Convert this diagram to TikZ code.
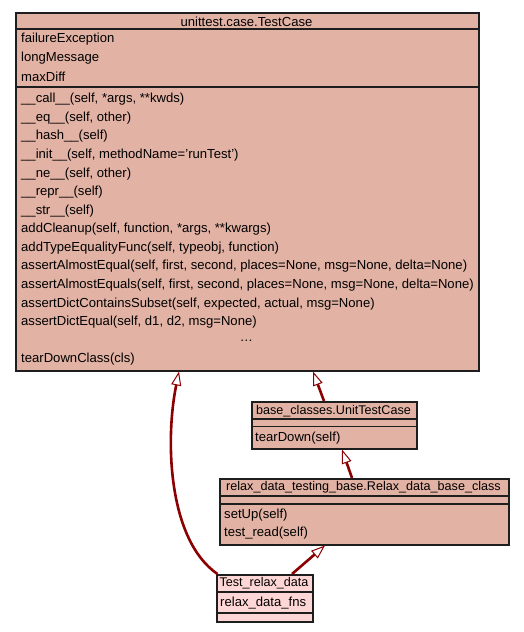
\documentclass[tikz,border=0pt]{standalone}
\usepackage{fontspec}
\setmainfont{Liberation Sans}
\usetikzlibrary{arrows.meta}
\definecolor{clsfill}{RGB}{226,178,164}
\definecolor{leaffill}{RGB}{255,214,214}
\definecolor{edgecol}{RGB}{139,0,0}
\definecolor{bordercol}{RGB}{30,30,30}
\tikzset{
  classbox/.style={draw=bordercol, line width=1.5pt, fill=clsfill, inner sep=0pt, anchor=north west},
  leafbox/.style={classbox, fill=leaffill},
  sepline/.style={draw=bordercol, line width=1.5pt},
  txt/.style={inner sep=0pt, anchor=west, yshift=-1.2pt, font=\fontsize{13.1}{15}\selectfont},
  ttl/.style={inner sep=0pt, anchor=center, yshift=-1.2pt, font=\fontsize{13.1}{15}\selectfont},
  sttl/.style={ttl, font=\fontsize{12.6}{15}\selectfont},
  inh/.style={draw=edgecol, line width=2.6pt, -{Triangle[open, fill=white, length=14pt, width=10pt, line width=1pt]}}
}
\begin{document}
\begin{tikzpicture}[x=1pt,y=-1pt]
\useasboundingbox (0,0) rectangle (524,632);
% unittest.case.TestCase
\node[classbox, minimum width=463pt, minimum height=358pt] (tc) at (15,12) {};
\draw[sepline] (15,29) -- (478,29);
\draw[sepline] (15,87) -- (478,87);
\node[ttl] (tct) at (246.5,20.5) {unittest.case.TestCase};
\node[txt] (a1) at (21,38.3) {failureException};
\node[txt] (a2) at (21,57.1) {longMessage};
\node[txt] (a3) at (21,75.9) {maxDiff};
\node[txt] (m1) at (21,98.3) {\_\_call\_\_(self, *args, **kwds)};
\node[txt] (m2) at (21,116.9) {\_\_eq\_\_(self, other)};
\node[txt] (m3) at (21,135.4) {\_\_hash\_\_(self)};
\node[txt] (m4) at (21,154.0) {\_\_init\_\_(self, methodName='runTest')};
\node[txt] (m5) at (21,172.6) {\_\_ne\_\_(self, other)};
\node[txt] (m6) at (21,191.1) {\_\_repr\_\_(self)};
\node[txt] (m7) at (21,209.7) {\_\_str\_\_(self)};
\node[txt] (m8) at (21,228.3) {addCleanup(self, function, *args, **kwargs)};
\node[txt] (m9) at (21,246.9) {addTypeEqualityFunc(self, typeobj, function)};
\node[txt] (m10) at (21,265.4) {assertAlmostEqual(self, first, second, places=None, msg=None, delta=None)};
\node[txt] (m11) at (21,284.0) {assertAlmostEquals(self, first, second, places=None, msg=None, delta=None)};
\node[txt] (m12) at (21,302.6) {assertDictContainsSubset(self, expected, actual, msg=None)};
\node[txt] (m13) at (21,321.1) {assertDictEqual(self, d1, d2, msg=None)};
\node[ttl] (m14) at (246.5,339.7) {\ldots};
\node[txt] (m15) at (21,358.3) {tearDownClass(cls)};
% base_classes.UnitTestCase
\node[classbox, minimum width=165pt, minimum height=47pt] (utc) at (251,401) {};
\draw[sepline] (251,419) -- (416,419);
\draw[sepline] (251,426.5) -- (416,426.5);
\node[sttl] (utct) at (333.5,409.5) {base\_classes.UnitTestCase};
\node[txt] (u1) at (255,436.5) {tearDown(self)};
% relax_data_testing_base.Relax_data_base_class
\node[classbox, minimum width=289pt, minimum height=66pt] (rdb) at (219,478) {};
\draw[sepline] (219,496) -- (508,496);
\draw[sepline] (219,504) -- (508,504);
\node[sttl] (rdbt) at (363.5,486.5) {relax\_data\_testing\_base.Relax\_data\_base\_class};
\node[txt] (r1) at (224,514) {setUp(self)};
\node[txt] (r2) at (224,532.3) {test\_read(self)};
% Test_relax_data
\node[leafbox, minimum width=96pt, minimum height=47pt] (trd) at (216,574) {};
\draw[sepline] (216,592) -- (312,592);
\draw[sepline] (216,613) -- (312,613);
\node[sttl] (trdt) at (264,582) {Test\_relax\_data};
\node[txt] (t1) at (220,601.5) {relax\_data\_fns};
% inheritance connectors
\draw[inh] ([xshift=1.5pt]trd.north west) .. controls (168,540) and (165,440) .. ([xshift=164pt]tc.south west);
\draw[inh] ([xshift=76pt]trd.north west) -- ([xshift=106pt]rdb.south west);
\draw[inh] ([xshift=133pt]rdb.north west) -- ([xshift=91pt]utc.south west);
\draw[inh] ([xshift=73pt]utc.north west) -- ([xshift=298pt]tc.south west);
\end{tikzpicture}
\end{document}
